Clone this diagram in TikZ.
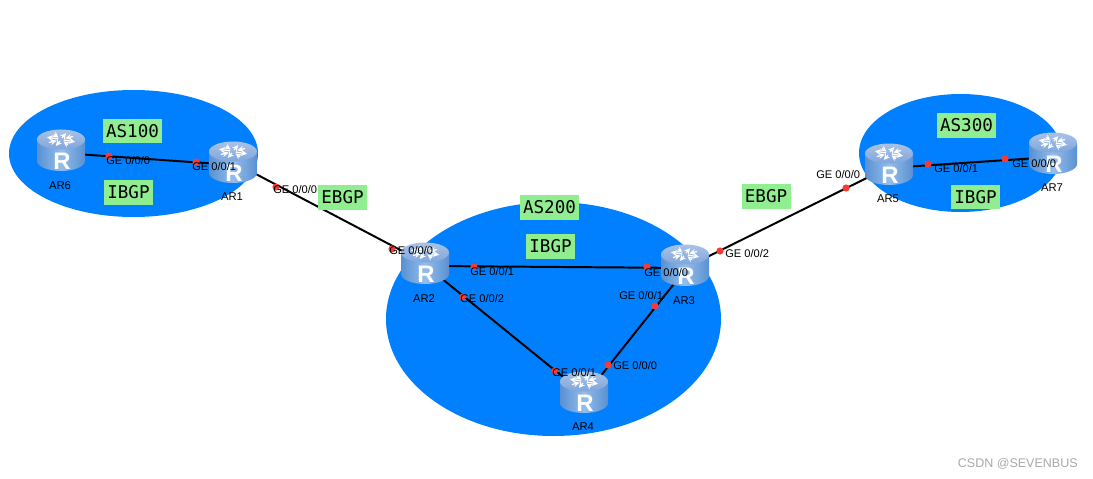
\documentclass[tikz,border=0pt]{standalone}
\usepackage{fontspec}
\setmainfont{Liberation Sans}
\newfontfamily\asfont{DejaVu Sans Mono}
\definecolor{asblue}{HTML}{0080FF}
\definecolor{taggreen}{HTML}{90EE90}
\definecolor{dotred}{HTML}{F83B32}
\definecolor{wmgray}{HTML}{A8A8A8}
\definecolor{bodyedge}{HTML}{5A90D2}
\definecolor{bodymid}{HTML}{93BDEB}
\definecolor{capup}{HTML}{A9C2E6}
\definecolor{capdown}{HTML}{7FA6DC}
\tikzset{
  rbox/.style={minimum width=1.2cm, minimum height=1.05cm, inner sep=0pt, outer sep=0pt},
  port/.style={anchor=west, inner sep=0pt, font=\fontsize{7.9}{8}\selectfont},
  rname/.style={inner sep=0pt, font=\fontsize{8}{8}\selectfont},
  tag/.style={fill=taggreen, minimum height=0.62cm, inner sep=0pt, font=\asfont\fontsize{12.5}{13}\selectfont},
  link/.style={line width=1.4pt, line cap=round},
  pics/router/.style={code={
    \shade[left color=bodyedge, right color=bodyedge, middle color=bodymid]
      (-24,-10) -- (-24,11) arc[start angle=180, end angle=0, x radius=24, y radius=10] -- (24,-10) -- cycle;
    \shade[top color=capup, bottom color=capdown]
      (0,-10.5) ellipse[x radius=24, y radius=10];
    \foreach \a in {20,110,200,290} {
      \draw[white, line width=0.9pt, -stealth] ({3*cos(\a)},{-10.5+1.6*sin(\a)}) -- ({15*cos(\a)},{-10.5+6.8*sin(\a)});
      \draw[white, line width=0.9pt, -stealth] ({14*cos(\a+40)},{-10.5+6*sin(\a+40)}) -- ({5*cos(\a+40)},{-10.5+2.2*sin(\a+40)});
    }
    \node[white, inner sep=0pt, font=\bfseries\fontsize{17}{17}\selectfont] (letter) at (1,11) {R};
  }}
}
\begin{document}
\begin{tikzpicture}[x=0.025cm, y=-0.025cm]
  \useasboundingbox (0,0) rectangle (1093,479);

  % AS areas
  \fill[asblue] (133.5,153.5) ellipse[x radius=124.5, y radius=63.5];
  \fill[asblue] (553.5,319) ellipse[x radius=167.5, y radius=117];
  \fill[asblue] (960.5,153) ellipse[x radius=101.5, y radius=59];

  % Routers
  \node[rbox] (AR6) at (61,150) {};
  \node[rbox] (AR1) at (233,162) {};
  \node[rbox] (AR2) at (425,263) {};
  \node[rbox] (AR3) at (685,265) {};
  \node[rbox] (AR4) at (584,392) {};
  \node[rbox] (AR5) at (889,164) {};
  \node[rbox] (AR7) at (1053,153) {};

  % Links
  \draw[link] ([yshift=-2.1pt]AR6.center) -- ([yshift=-2.1pt]AR1.center);
  \draw[link] (AR1.center) -- (AR2.center);
  \draw[link] ([yshift=-2.1pt]AR2.center) -- ([yshift=-2.1pt]AR3.center);
  \draw[link] ([yshift=-1.4pt]AR2.center) -- ([yshift=-1.4pt]AR4.center);
  \draw[link] ([xshift=2.8pt]AR3.center) -- ([xshift=2.8pt]AR4.center);
  \draw[link] ([yshift=-2.1pt]AR3.center) -- ([yshift=-2.1pt]AR5.center);
  \draw[link] ([yshift=-2.8pt]AR5.center) -- ([yshift=-2.8pt]AR7.center);

  \foreach \r in {AR6,AR1,AR2,AR3,AR4,AR5,AR7} {
    \pic (pic\r) at (\r) {router};
  }

  % Router names
  \node[rname] (nameAR6) at (60,186) {AR6};
  \node[rname] (nameAR1) at (232,197) {AR1};
  \node[rname] (nameAR2) at (424,299) {AR2};
  \node[rname] (nameAR3) at (684,301) {AR3};
  \node[rname] (nameAR4) at (583,427) {AR4};
  \node[rname] (nameAR5) at (888,199) {AR5};
  \node[rname] (nameAR7) at (1052,188) {AR7};

  % Ports
  \foreach \x/\y in {109/156, 196/162, 276/187, 392/249, 474/267, 647/267, 463/297,
                     555/371, 608/365, 655/306, 720/251, 846/188, 928/164, 1005/159} {
    \fill[dotred] (\x,\y) circle (3.6);
  }
  \foreach \x/\y/\t/\n in {106/161/GE 0\slash 0\slash 0/a, 192/167/GE 0\slash 0\slash 1/b,
                           273/190/GE 0\slash 0\slash 0/c, 389/251/GE 0\slash 0\slash 0/d,
                           470/272/GE 0\slash 0\slash 1/e, 460/299/GE 0\slash 0\slash 2/f,
                           644/273/GE 0\slash 0\slash 0/g, 619/296/GE 0\slash 0\slash 1/h,
                           725/254/GE 0\slash 0\slash 2/i, 552/373/GE 0\slash 0\slash 1/j,
                           613/366/GE 0\slash 0\slash 0/k, 816/175/GE 0\slash 0\slash 0/l,
                           934/169/GE 0\slash 0\slash 1/m, 1012/164/GE 0\slash 0\slash 0/n} {
    \node[port] (port\n) at (\x,\y) {\t};
  }

  % Tags
  \node[tag, minimum width=1.475cm] (as100) at (132.5,131) {AS100};
  \node[tag, minimum width=1.225cm] (ibgp100) at (128.5,192.5) {IBGP};
  \node[tag, minimum width=1.225cm] (ebgp12) at (342.5,197.5) {EBGP};
  \node[tag, minimum width=1.475cm] (as200) at (549.5,207.5) {AS200};
  \node[tag, minimum width=1.225cm] (ibgp200) at (550.5,246.5) {IBGP};
  \node[tag, minimum width=1.225cm] (ebgp35) at (766,196.5) {EBGP};
  \node[tag, minimum width=1.475cm] (as300) at (966.5,125.5) {AS300};
  \node[tag, minimum width=1.225cm] (ibgp300) at (975.5,197) {IBGP};

  \node[wmgray, anchor=east, inner sep=0pt, font=\fontsize{8.9}{9}\selectfont] (mark) at (1078,464) {CSDN @SEVENBUS};
\end{tikzpicture}
\end{document}
